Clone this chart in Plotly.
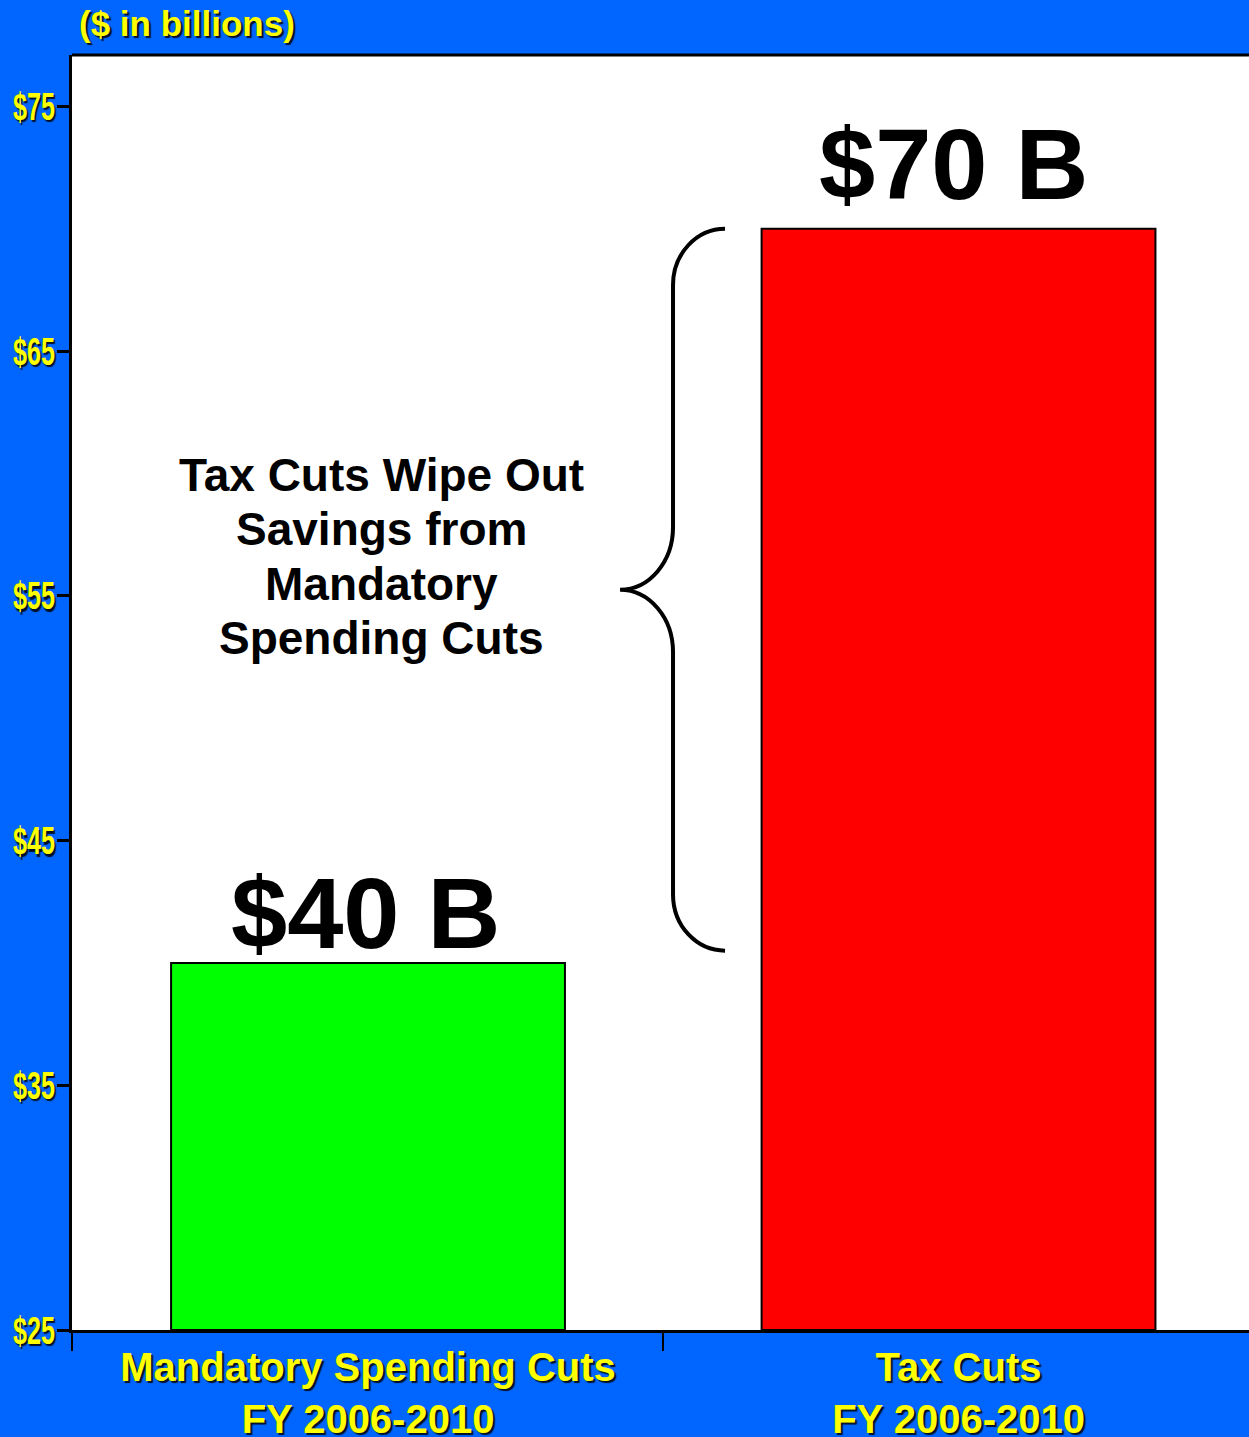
import plotly.graph_objects as go

categories = ["Mandatory Spending Cuts<br>FY 2006-2010", "Tax Cuts<br>FY 2006-2010"]
values = [40, 70]
bar_labels = ["$40 B", "$70 B"]
bar_colors = ["#00FF00", "#FF0000"]
y_ticks = [25, 35, 45, 55, 65, 75]
brace_top, brace_bottom = 70, 40.5
note_lines = ["Tax Cuts Wipe Out", "Savings from", "Mandatory", "Spending Cuts"]
unit_title = "($ in billions)"

BLUE = "#0066FF"
YEL = "#FFFF00"
SHADOW = "2px 2px 1px rgba(0,0,0,0.85)"
FONT = "Liberation Sans, Arial, sans-serif"
W, H = 1249, 1437
ML, MR, MT, MB = 72, 0, 55, 107
pw, ph = W - ML - MR, H - MT - MB
xpos = list(range(len(categories)))

fig = go.Figure()
fig.add_trace(go.Bar(
    x=xpos, y=[v - 25 for v in values], base=25, width=0.667,
    marker=dict(color=bar_colors, line=dict(color="black", width=2)),
    hoverinfo="skip", showlegend=False,
))

annotations = []
label_shift = [(-2, -8), (-5, 7)]
for xi, v, lab, (xs, ys) in zip(xpos, values, bar_labels, label_shift):
    annotations.append(dict(
        x=xi, y=v, xref="x", yref="y", text=lab, showarrow=False,
        yanchor="bottom", yshift=ys, xshift=xs,
        font=dict(family=FONT, size=101, color="black", weight="bold"),
    ))

mid = (brace_top + brace_bottom) / 2
n = len(note_lines)
for i, line in enumerate(note_lines):
    annotations.append(dict(
        x=0.022, y=mid, xref="x", yref="y", text=line, showarrow=False,
        xanchor="center", yanchor="middle", yshift=((n - 1) / 2 - i) * 54.5 + 33,
        font=dict(family=FONT, size=46, color="black", weight="bold"),
    ))

annotations.append(dict(
    x=(77 - ML) / pw, y=1 + (MT - 24) / ph, xref="paper", yref="paper",
    text=unit_title, showarrow=False, xanchor="left", yanchor="middle",
    font=dict(family=FONT, size=35, color=YEL, weight="bold", shadow=SHADOW),
))

xa, xv, xt = 0.6046, 0.5165, 0.4268
c = 2.3
m = 2.55
k = 0.552
path = (
    f"M {xa},{brace_top} "
    f"C {xa - k*(xa-xv)},{brace_top} {xv},{brace_top - c + k*c} {xv},{brace_top - c} "
    f"L {xv},{mid + m} "
    f"C {xv},{mid + m - k*m} {xt + k*(xv-xt)},{mid} {xt},{mid} "
    f"C {xt + k*(xv-xt)},{mid} {xv},{mid - m + k*m} {xv},{mid - m} "
    f"L {xv},{brace_bottom + c} "
    f"C {xv},{brace_bottom + c - k*c} {xa - k*(xa-xv)},{brace_bottom} {xa},{brace_bottom}"
)

shapes = [
    dict(type="path", path=path, xref="x", yref="y", line=dict(color="black", width=4)),
    dict(type="line", xref="paper", yref="paper", x0=0, x1=1, y0=1, y1=1,
         line=dict(color="black", width=3)),
]

fig.update_layout(
    width=W, height=H,
    margin=dict(l=ML, r=MR, t=MT, b=MB, pad=0),
    paper_bgcolor=BLUE, plot_bgcolor="white",
    annotations=annotations, shapes=shapes,
    xaxis=dict(
        range=[-0.5013, 1.4919], tickvals=xpos, ticktext=categories,
        ticks="", showline=True, linecolor="black", linewidth=3,
        showgrid=False, zeroline=False, ticklabelstandoff=0, automargin=False,
        tickfont=dict(family=FONT, size=40, color=YEL, weight="bold", shadow=SHADOW),
        minor=dict(tickvals=[-0.5013, 0.5], ticks="outside", ticklen=18, tickwidth=2, tickcolor="black"),
    ),
    yaxis=dict(
        range=[25, 77.1], tickvals=y_ticks, ticktext=[f"${t}" for t in y_ticks],
        ticks="outside", ticklen=12, tickwidth=3, tickcolor="black",
        showline=True, linecolor="black", linewidth=3,
        showgrid=False, zeroline=False, automargin=False,
        tickfont=dict(family=FONT, size=30, color=YEL, weight="bold", shadow=SHADOW),
    ),
)

post = """
document.body.style.margin = '0';
document.body.style.overflow = 'hidden';
(function(){
  var gd = document.getElementById('{plot_id}');
  gd.querySelectorAll('.ytick text').forEach(function(t){
    var b = t.getBBox();
    var cx = b.x + b.width, cy = b.y + b.height / 2;
    var tr = t.getAttribute('transform') || '';
    t.setAttribute('transform', tr + ' translate(' + (cx + 4) + ',' + cy + ') scale(0.84,1.3) translate(' + (-cx) + ',' + (-cy) + ')');
  });
})();
"""

fig.write_html("out.html", post_script=post, config={"displayModeBar": False})
